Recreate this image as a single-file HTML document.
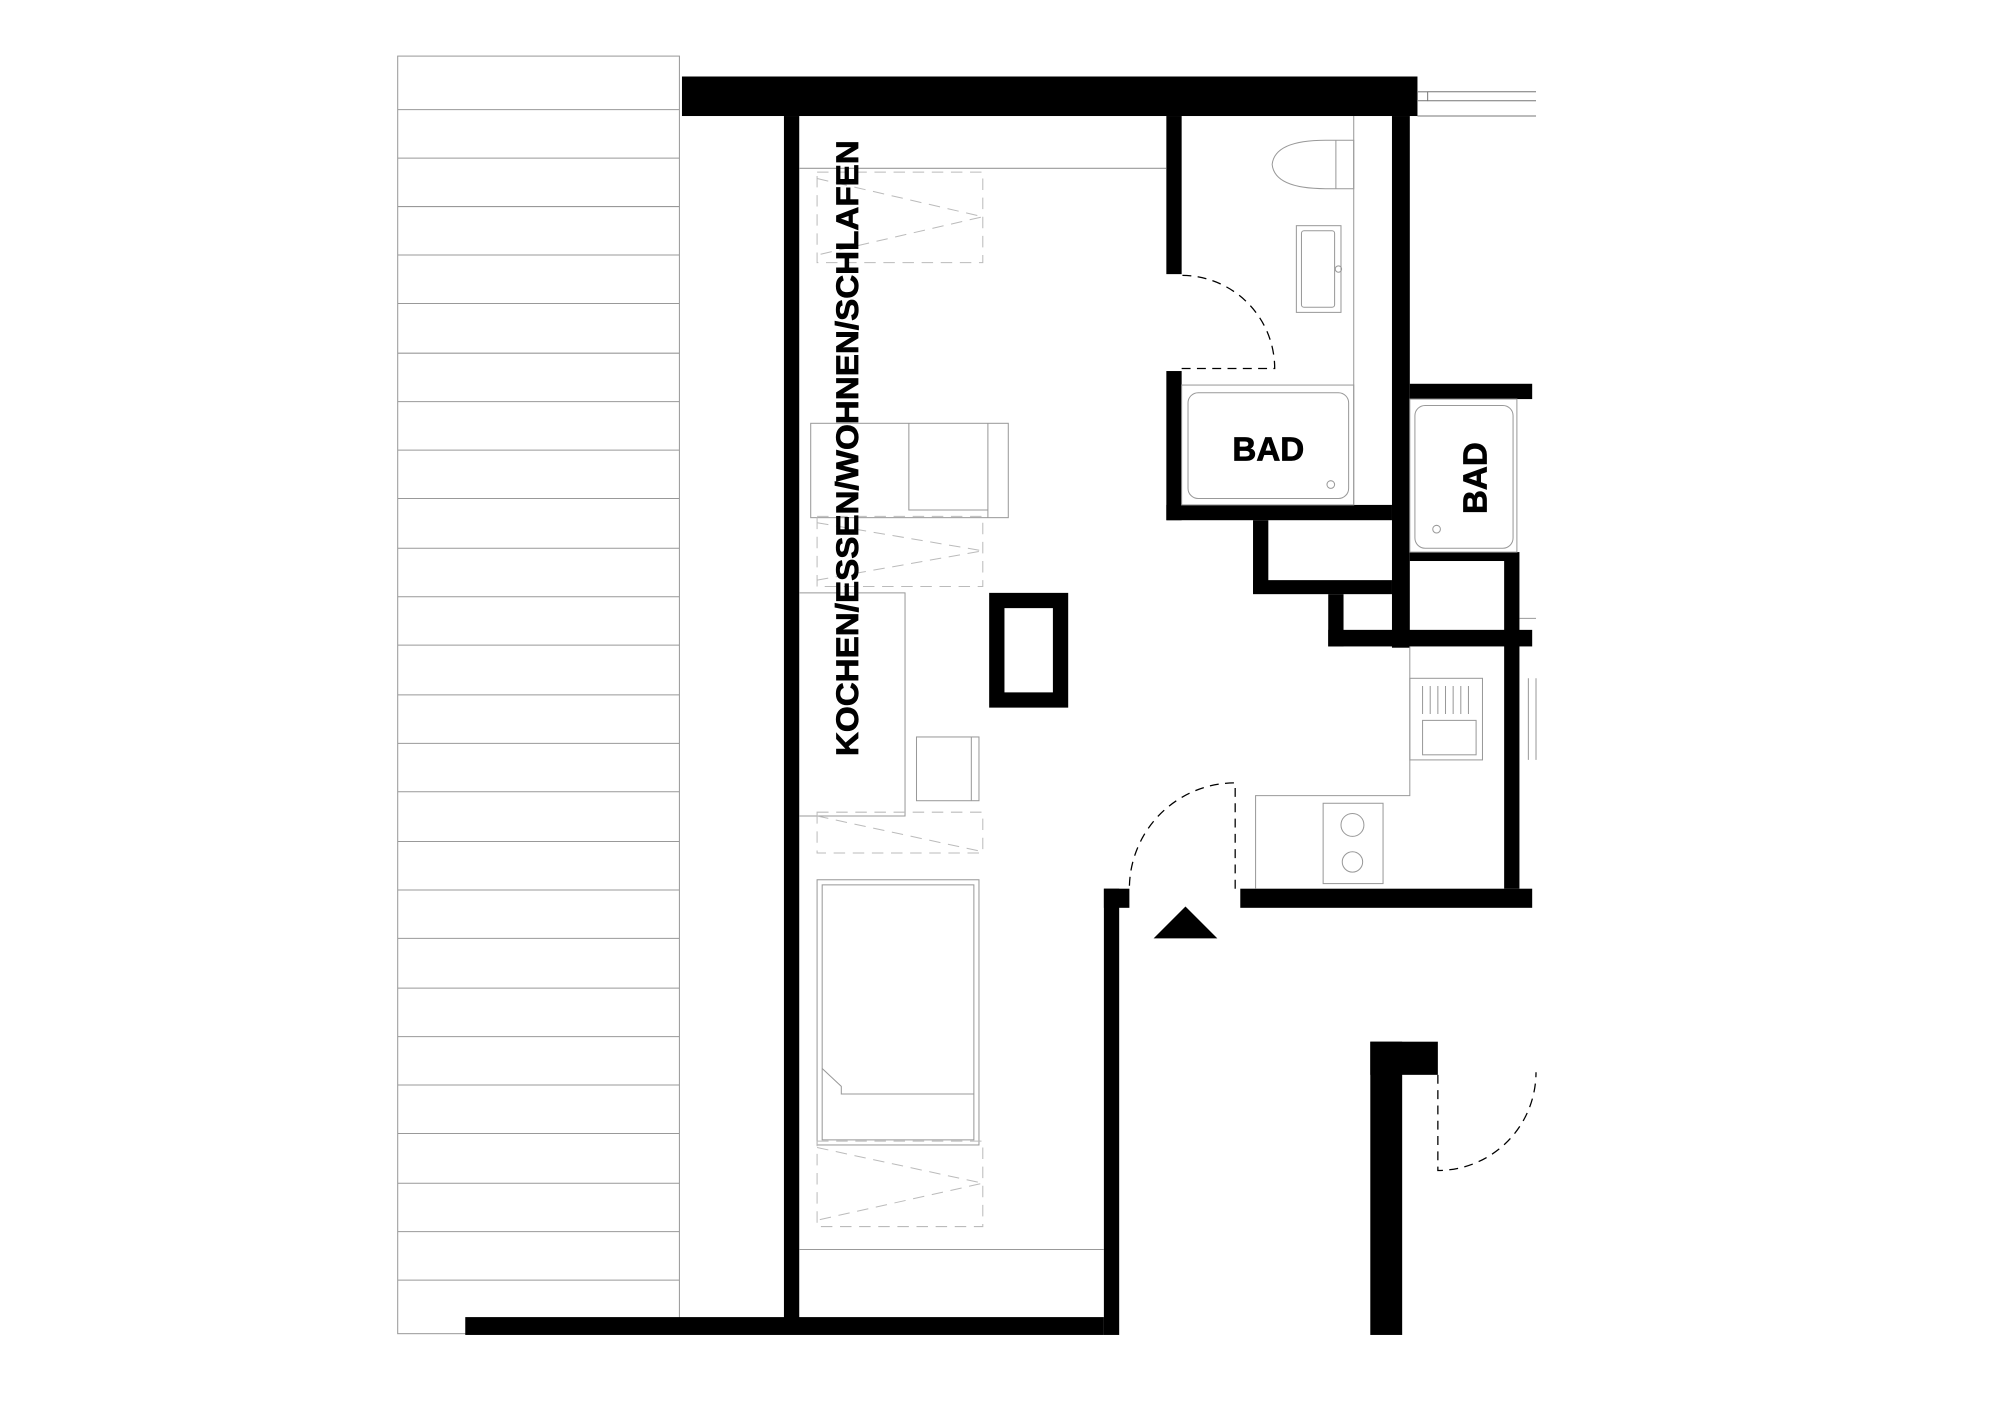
<!DOCTYPE html>
<html><head><meta charset="utf-8"><style>
html,body{margin:0;padding:0;background:#fff;}
svg{display:block;}
text{font-family:"Liberation Sans","DejaVu Sans",sans-serif;font-weight:bold;}
</style></head><body>
<svg width="2000" height="1414" viewBox="0 0 1569 1109" preserveAspectRatio="none" xmlns="http://www.w3.org/2000/svg">
<rect width="1569" height="1109" fill="#fff"/>
<g stroke="#999" stroke-width="0.8" fill="none">
<rect x="312" y="44" width="221" height="1002"/>
<path d="M312 86H533M312 124H533M312 162H533M312 200H533M312 238H533M312 277H533M312 315H533M312 353H533M312 391H533M312 430H533M312 468H533M312 506H533M312 545H533M312 583H533M312 621H533M312 660H533M312 698H533M312 736H533M312 775H533M312 813H533M312 851H533M312 889H533M312 928H533M312 966H533M312 1004H533"/>
</g>
<g fill="#000">
<rect x="535" y="60" width="577" height="31"/>
<rect x="615" y="91" width="12" height="944"/>
<rect x="365" y="1033" width="501" height="14"/>
<rect x="866" y="697" width="12" height="350"/>
<rect x="866" y="697" width="20" height="15"/>
<rect x="915" y="91" width="12" height="124"/>
<rect x="915" y="291" width="12" height="117"/>
<rect x="915" y="396" width="177" height="12"/>
<rect x="1092" y="91" width="14" height="417"/>
<rect x="983" y="408" width="12" height="57"/>
<rect x="983" y="455" width="109" height="11"/>
<rect x="1042" y="466" width="12" height="41"/>
<rect x="1042" y="494" width="160" height="13"/>
<rect x="1106" y="301" width="96" height="12"/>
<rect x="1106" y="433" width="84" height="7"/>
<rect x="1180" y="433" width="12" height="264"/>
<rect x="973" y="697" width="229" height="15"/>
<rect x="1075" y="817" width="25" height="230"/>
<rect x="1075" y="817" width="53" height="26"/>
<path d="M776 465H838V555H776Z M788 477V543H826V477Z" fill-rule="evenodd"/>
<polygon points="905,736 930,711 955,736"/>
</g>
<g stroke="#777" stroke-width="0.8" fill="none">
<rect x="1112" y="72" width="8" height="7"/>
<path d="M1120 72H1205M1120 79H1205M1112 91H1205"/>
</g>
<g stroke="#000" stroke-width="1" fill="none" stroke-dasharray="7,5">
<path d="M927 289H1000 A73 73 0 0 0 927 216"/>
<path d="M969 697V614 A83 83 0 0 0 886 697"/>
<path d="M1128 843V918 A77 77 0 0 0 1205 841"/>
</g>
<g stroke="#999" stroke-width="0.8" fill="none">
<path d="M627 132H915"/>
<path d="M627 980H866"/>
<path d="M627 465H710V640H627"/>
<path d="M1062 91V396"/>
<path d="M1106 507V624H985V697"/>
<path d="M1040 110H1062V148H1040 Q1000 148 998 129 Q1000 110 1040 110Z"/>
<path d="M1048 110V148"/>
<rect x="1017" y="177" width="35" height="68"/>
<rect x="1021" y="181" width="26" height="60" rx="2"/>
<circle cx="1050" cy="211" r="2.5"/>
<rect x="927" y="302" width="135" height="94"/>
<rect x="932" y="308" width="126" height="83" rx="8"/>
<circle cx="1044" cy="380" r="3"/>
<rect x="1106" y="313" width="84" height="120"/>
<rect x="1110" y="318" width="77" height="112" rx="8"/>
<circle cx="1127" cy="415" r="3"/>
<rect x="1106" y="532" width="57" height="64"/>
<rect x="1116" y="565" width="42" height="27"/>
<path d="M1116 538V560M1122 538V560M1128 538V560M1134 538V560M1140 538V560M1146 538V560M1152 538V560"/>
<rect x="1038" y="630" width="47" height="63"/>
<circle cx="1061" cy="647" r="9"/>
<circle cx="1061" cy="676" r="8"/>
<path d="M1199 532V596M1205 532V596"/>
<path d="M1192 485H1205"/>
<rect x="636" y="332" width="155" height="74"/>
<path d="M713 332V400H775M775 332V406"/>
<rect x="719" y="578" width="49" height="50"/>
<path d="M762 578V628"/>
<rect x="641" y="690" width="127" height="208"/>
<rect x="645" y="694" width="119" height="200"/>
<path d="M645 838L660 852V858H764"/>
</g>
<g stroke="#bbb" stroke-width="0.8" fill="none" stroke-dasharray="9,6">
<rect x="641" y="135" width="130" height="71"/>
<path d="M641 140L771 170L641 200"/>
<rect x="641" y="405" width="130" height="55"/>
<path d="M641 410L771 432L641 455"/>
<rect x="641" y="637" width="130" height="32"/>
<path d="M641 640L771 668"/>
<rect x="641" y="895" width="130" height="67"/>
<path d="M641 900L771 928L641 957"/>
</g>
<g stroke="#000" stroke-width="0.6">
<text x="995" y="361" font-size="26" text-anchor="middle">BAD</text>
<text transform="translate(1166,375) rotate(-90)" font-size="26" text-anchor="middle">BAD</text>
<text transform="translate(673,593) rotate(-90)" font-size="25" textLength="483" lengthAdjust="spacingAndGlyphs">KOCHEN/ESSEN/WOHNEN/SCHLAFEN</text>
</g>
</svg>
</body></html>
